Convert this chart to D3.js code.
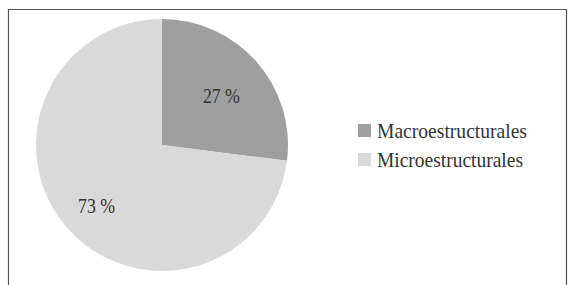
<!DOCTYPE html>
<html>
<head>
<meta charset="utf-8">
<script src="https://cdn.jsdelivr.net/npm/d3@7"></script>
<style>
  body { margin: 0; background: #fff; }
  svg { display: block; }
</style>
</head>
<body>
<script>
var width = 568;
var height = 285;

// data
var categories = ["Macroestructurales", "Microestructurales"];
var values = [27, 73];
var labels = ["27 %", "73 %"];
var colors = ["#9f9f9f", "#d9d9d9"];

var cx = 162, cy = 145, radius = 126;
var fontFam = "Liberation Serif, DejaVu Serif, serif";

var svg = d3.select("body")
  .append("svg")
  .attr("width", width)
  .attr("height", height);

// frame (bottom edge is cut off in the picture)
svg.append("path")
  .attr("d", "M8.5," + (height + 2) + "V9.5H566.5V" + (height + 2))
  .attr("fill", "none")
  .attr("stroke", "#555")
  .attr("stroke-width", 1.2);

var pie = d3.pie().sort(null).value(function(d) { return d; });
var arcs = pie(values);

var arc = d3.arc().innerRadius(0).outerRadius(radius);
var labelArc = d3.arc().innerRadius(radius * 0.66).outerRadius(radius * 0.66);

var g = svg.append("g").attr("transform", "translate(" + cx + "," + cy + ")");

g.selectAll("path.slice")
  .data(arcs)
  .enter()
  .append("path")
  .attr("class", "slice")
  .attr("d", arc)
  .style("fill", function(d, i) { return colors[i]; });

g.selectAll("text.lbl")
  .data(arcs)
  .enter()
  .append("text")
  .attr("class", "lbl")
  .attr("transform", function(d) {
    var c = labelArc.centroid(d);
    return "translate(" + (c[0] - 3) + "," + (c[1] + 6) + ")";
  })
  .attr("dy", "0.35em")
  .attr("text-anchor", "middle")
  .attr("font-family", fontFam)
  .attr("font-size", 21)
  .attr("textLength", 37)
  .attr("lengthAdjust", "spacingAndGlyphs")
  .style("fill", "#333")
  .text(function(d, i) { return labels[i]; });

// legend
var legend = svg.append("g").attr("transform", "translate(358,124)");
var item = legend.selectAll("g")
  .data(categories)
  .enter()
  .append("g")
  .attr("transform", function(d, i) { return "translate(0," + (i * 29) + ")"; });

item.append("rect")
  .attr("width", 13)
  .attr("height", 13)
  .style("fill", function(d, i) { return colors[i]; });

item.append("text")
  .attr("x", 19)
  .attr("y", 14)
  .attr("font-family", fontFam)
  .attr("font-size", 21)
  .style("fill", "#333")
  .attr("textLength", function(d, i) { return i === 0 ? 150 : 146; })
  .attr("lengthAdjust", "spacingAndGlyphs")
  .text(function(d) { return d; });
</script>
</body>
</html>
